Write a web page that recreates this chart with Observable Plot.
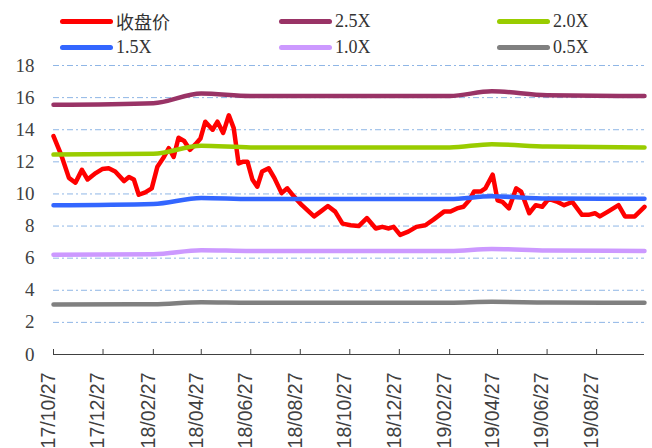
<!DOCTYPE html>
<html>
<head>
<meta charset="utf-8">
<script src="https://cdn.jsdelivr.net/npm/d3@7"></script>
<script src="https://cdn.jsdelivr.net/npm/@observablehq/plot@0.6"></script>
<style>
  html, body { margin: 0; padding: 0; background: #fff; overflow: hidden; }
  #legend { position: relative; width: 652px; height: 58px; }
  .item { position: absolute; height: 22px; display: flex; align-items: center; }
  .sw { width: 53px; height: 5px; border-radius: 3px; margin-right: 3px; }
  .lab { font-family: "Liberation Serif", "Noto Sans CJK SC", serif; font-size: 18px; color: #333; white-space: nowrap; }
  #chart svg { display: block; overflow: visible; }
</style>
</head>
<body>
<div id="legend"></div>
<div id="chart"></div>
<script>
// ---- data ----
const closeDates = ["2017-10-27","2017-11-05","2017-11-15","2017-11-23","2017-12-01","2017-12-08","2017-12-18","2017-12-26",
  "2018-01-03","2018-01-11","2018-01-22","2018-01-28","2018-02-03","2018-02-09","2018-02-17","2018-02-25",
  "2018-03-04","2018-03-12","2018-03-18","2018-03-24","2018-03-30","2018-04-06","2018-04-13","2018-04-20","2018-04-26",
  "2018-05-02","2018-05-11","2018-05-17","2018-05-24","2018-05-31","2018-06-06","2018-06-12","2018-06-17","2018-06-23","2018-06-29",
  "2018-07-05","2018-07-11","2018-07-19","2018-07-26","2018-08-04","2018-08-11","2018-08-19","2018-08-29",
  "2018-09-13","2018-09-21","2018-09-30","2018-10-09","2018-10-18","2018-10-28","2018-11-07","2018-11-17","2018-11-28",
  "2018-12-06","2018-12-14","2018-12-20","2018-12-28","2019-01-07","2019-01-17","2019-01-28","2019-02-07","2019-02-20","2019-02-28",
  "2019-03-08","2019-03-16","2019-03-23","2019-03-29","2019-04-06","2019-04-12","2019-04-21","2019-04-27",
  "2019-05-03","2019-05-11","2019-05-20","2019-05-26","2019-06-05","2019-06-13","2019-06-21","2019-06-29",
  "2019-07-10","2019-07-18","2019-07-28","2019-08-09","2019-08-17","2019-08-25","2019-08-31","2019-09-10","2019-09-23",
  "2019-10-01","2019-10-13","2019-10-25"];
const closeValues = [13.6,12.5,11.0,10.7,11.5,10.9,11.3,11.55,
  11.6,11.4,10.8,11.05,10.9,9.95,10.1,10.35,
  11.7,12.3,12.85,12.3,13.5,13.3,12.75,13.1,13.45,
  14.5,14.0,14.5,13.8,14.9,14.1,11.9,12.0,12.0,10.9,
  10.45,11.4,11.6,11.0,10.05,10.35,9.85,9.3,
  8.6,8.9,9.25,8.9,8.15,8.05,8.0,8.5,7.85,
  7.95,7.85,7.95,7.45,7.65,7.95,8.05,8.4,8.9,8.9,
  9.1,9.2,9.6,10.15,10.15,10.35,11.2,9.6,
  9.5,9.1,10.35,10.15,8.8,9.3,9.2,9.7,
  9.5,9.3,9.5,8.7,8.7,8.8,8.6,8.9,9.3,
  8.6,8.6,9.2];

const bandDates = ["2017-10-27","2018-02-27","2018-04-27","2018-06-27","2019-02-27","2019-04-20","2019-06-27","2019-10-25"];
const band25 = [15.55,15.65,16.25,16.1,16.1,16.4,16.15,16.1];
const band20 = [12.45,12.5,13.0,12.9,12.9,13.1,12.95,12.9];
const band15 = [9.3,9.38,9.75,9.68,9.68,9.85,9.72,9.7];
const band10 = [6.22,6.25,6.5,6.45,6.45,6.57,6.48,6.45];
const band05 = [3.11,3.13,3.25,3.22,3.22,3.28,3.24,3.22];

const seriesNames = ["收盘价","2.5X","2.0X","1.5X","1.0X","0.5X"];
const seriesColors = ["#FF0000","#993366","#99CC00","#3366FF","#CC99FF","#808080"];

const xTickLabels = ["2017/10/27","2017/12/27","2018/02/27","2018/04/27","2018/06/27","2018/08/27",
  "2018/10/27","2018/12/27","2019/02/27","2019/04/27","2019/06/27","2019/08/27"];
const yTicks = [0,2,4,6,8,10,12,14,16,18];

// ---- build ----
const parse = s => new Date(s + "T00:00:00Z");
const closeData = closeDates.map((d, i) => ({date: parse(d), value: closeValues[i]}));
const bands = [band25, band20, band15, band10, band05];
const bandData = [];
bands.forEach((arr, k) => arr.forEach((v, i) => bandData.push({date: parse(bandDates[i]), value: v, series: seriesNames[k + 1]})));
const xTicks = xTickLabels.map(s => parse(s.replace(/\//g, "-")));
const labelOf = new Map(xTicks.map((d, i) => [+d, xTickLabels[i]]));

// legend
const legend = document.getElementById("legend");
const cols = [60, 279, 497];
const rows = [10, 36];
seriesNames.forEach((name, i) => {
  const el = document.createElement("div");
  el.className = "item";
  el.style.left = cols[i % 3] + "px";
  el.style.top = rows[Math.floor(i / 3)] + "px";
  el.innerHTML = `<div class="sw" style="background:${seriesColors[i]}"></div><span class="lab">${name}</span>`;
  legend.appendChild(el);
});

const chart = Plot.plot({
  width: 652,
  height: 390,
  marginTop: 7,
  marginBottom: 94,
  marginLeft: 53,
  marginRight: 8,
  x: {type: "utc", domain: [parse("2017-10-27"), parse("2019-10-25")], axis: null},
  y: {domain: [0, 18], axis: null},
  color: {domain: seriesNames, range: seriesColors},
  marks: [
    Plot.ruleY(yTicks.filter(d => d > 0), {stroke: "#8FB6E6", strokeWidth: 1, strokeDasharray: "6,3,2,3"}),
    Plot.ruleY([0], {stroke: "#404040", strokeWidth: 1}),
    Plot.ruleX(xTicks, {x: d => d, y1: 0, y2: 0, insetTop: -5, stroke: "#404040"}),
    Plot.text(xTicks, {x: d => d, y: 0, text: d => labelOf.get(+d), rotate: -90, textAnchor: "end",
      dy: 18, dx: -5, fontSize: 19.5, fontFamily: "Liberation Sans, Arial, sans-serif", fill: "#404040"}),
    Plot.text(yTicks, {frameAnchor: "left", y: d => d, text: d => String(d), textAnchor: "end",
      dx: -19, fontSize: 19, fontFamily: "Liberation Serif, serif", fill: "#404040"}),
    Plot.line(closeData, {x: "date", y: "value", stroke: seriesColors[0], strokeWidth: 4.5, strokeLinejoin: "round", strokeLinecap: "round"}),
    Plot.line(bandData, {x: "date", y: "value", z: "series", stroke: "series", strokeWidth: 4.5, curve: "monotone-x"})
  ]
});
document.getElementById("chart").appendChild(chart);
</script>
</body>
</html>
